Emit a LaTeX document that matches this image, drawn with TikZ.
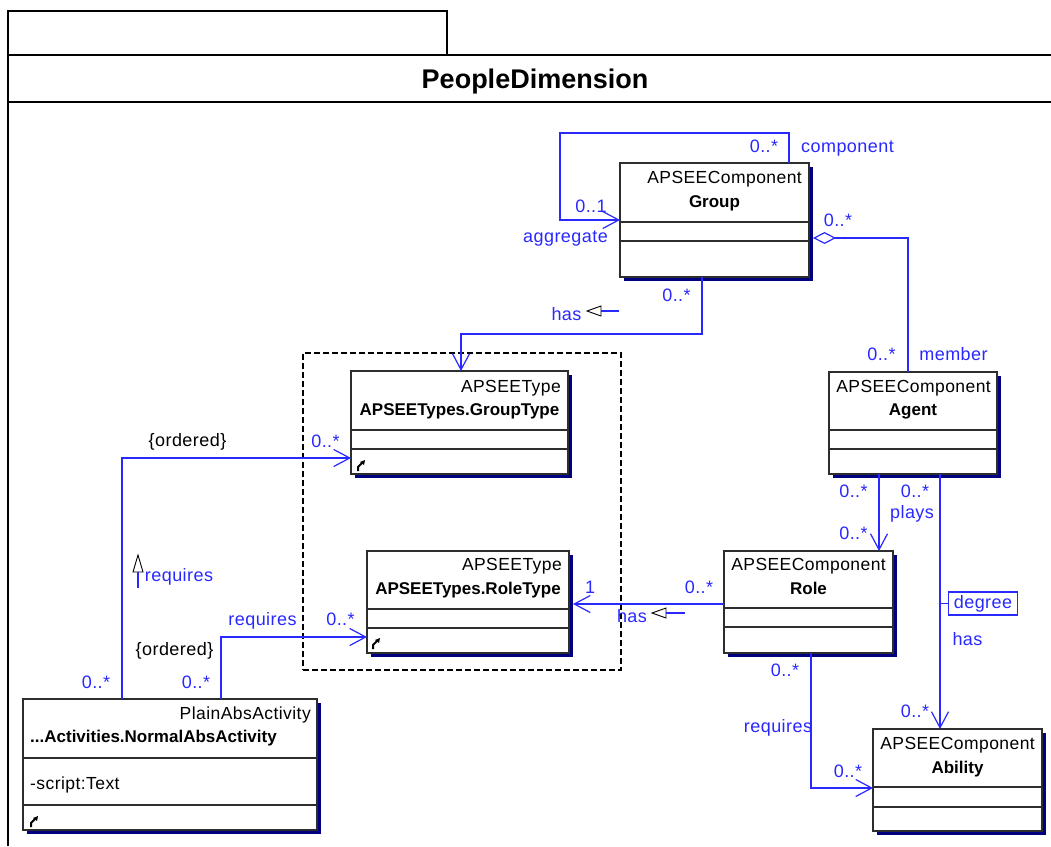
\documentclass[tikz,border=0pt]{standalone}
\usepackage{fontspec}
\setmainfont{Liberation Sans}[UprightFeatures={LetterSpace=2.5}]
\usetikzlibrary{arrows.meta}
\definecolor{lineblue}{RGB}{40,40,255}
\definecolor{shadenavy}{RGB}{0,0,128}
\definecolor{boxgray}{RGB}{45,45,45}

% class frame: name, x1, y1, x2, y2, first separator y, second separator y
\newcommand\classframe[7]{%
  \fill[clsshadow] (#2+4,#3+4) rectangle (#4+4,#5+4);
  \node[clsbox, anchor=north west, minimum width={(#4-#2)*1pt}, minimum height={(#5-#3)*1pt}] (#1) at (#2,#3) {};
  \draw[clsline] (#2,#6) -- (#4,#6);
  \draw[clsline] (#2,#7) -- (#4,#7);
}
% small operations marker in the last compartment (bottom-left corner x, y)
\newcommand\opmark[2]{%
  \draw[black, line width=2pt] (#1+1,#2) -- (#1+1,#2-4) -- (#1+5,#2-8);
  \fill[black] (#1+3,#2-9) -- (#1+8,#2-11) -- (#1+7,#2-6) -- cycle;
}

\begin{document}
\begin{tikzpicture}[x=1pt,y=-1pt,
  frameline/.style={draw=black, line width=1.2pt},
  clsbox/.style={draw=boxgray, fill=white, line width=1.4pt, inner sep=0pt, outer sep=0pt},
  clsline/.style={draw=boxgray, line width=1.4pt},
  clsshadow/.style={fill=shadenavy},
  stereo/.style={inner sep=0pt, anchor=base east, font=\fontsize{17.5}{20}\selectfont},
  clsname/.style={inner sep=0pt, anchor=base, font=\fontsize{17}{20}\selectfont\bfseries},
  attr/.style={inner sep=0pt, anchor=base west, font=\fontsize{17.5}{20}\selectfont},
  lbl/.style={inner sep=0pt, anchor=base, text=lineblue, font=\fontsize{18}{20}\selectfont},
  note/.style={inner sep=0pt, anchor=base, text=black, font=\fontsize{18}{20}\selectfont},
  assoc/.style={draw=lineblue, line width=1.4pt},
  navig/.style={-{Straight Barb[length=16pt,width=17pt,line width=1.2pt]}},
  dirmark/.style={draw=black, fill=white, line width=0.9pt},
]
\useasboundingbox (0,0) rectangle (1051,846);

% package frame with tab and title band
\draw[frameline] (8,846) -- (8,11) -- (447,11) -- (447,55);
\draw[frameline] (8,55) -- (1051,55);
\draw[frameline] (8,102) -- (1051,102);
\node[inner sep=0pt, anchor=base, font=\fontsize{27}{30}\selectfont\bfseries] (title) at (535,88) {PeopleDimension};

% dashed group around the type classes
\node[draw=black, line width=1.6pt, dash pattern=on 6pt off 3pt, anchor=north west,
      minimum width=318pt, minimum height=317pt, inner sep=0pt, outer sep=0pt] (typepkg) at (303,353) {};

% classes
\classframe{group}{620}{163}{809}{277}{222}{241}
\node[stereo] (group-st) at (802,183) {APSEEComponent};
\node[clsname] (group-nm) at (714.5,207) {Group};

\classframe{gtype}{351}{371}{568}{474}{430}{449}
\node[stereo] (gtype-st) at (561,392) {APSEEType};
\node[clsname] (gtype-nm) at (459.5,415) {APSEETypes.GroupType};
\opmark{357}{471}

\classframe{rtype}{367}{551}{569}{653}{609}{628}
\node[stereo] (rtype-st) at (562,570) {APSEEType};
\node[clsname] (rtype-nm) at (468,594) {APSEETypes.RoleType};
\opmark{372}{649}

\classframe{agent}{829}{372}{997}{474}{430}{449}
\node[stereo] (agent-st) at (991,392) {APSEEComponent};
\node[clsname] (agent-nm) at (913,415) {Agent};

\classframe{role}{724}{551}{893}{653}{608}{627}
\node[stereo] (role-st) at (886,570) {APSEEComponent};
\node[clsname] (role-nm) at (808.5,594) {Role};

\classframe{ability}{873}{729}{1042}{831}{787}{807}
\node[stereo] (ability-st) at (1035,749) {APSEEComponent};
\node[clsname] (ability-nm) at (957.5,773) {Ability};

\classframe{act}{23}{699}{317}{830}{758}{805}
\node[stereo] (act-st) at (311,719) {PlainAbsActivity};
\node[clsname, anchor=base west] (act-nm) at (30,742) {...Activities.NormalAbsActivity};
\node[attr] (act-attr) at (30,789) {-script:Text};
\opmark{30}{827}

% Group self association (component / aggregate)
\draw[assoc, navig] ([xshift=74.5pt]group.north) |- (560,133) |- (group.west);
\node[lbl] (l-comp-m) at (764,152) {0..*};
\node[lbl] (l-comp) at (847.5,152) {component};
\node[lbl] (l-agg-m) at (591,212) {0..1};
\node[lbl] (l-agg) at (565.5,242) {aggregate};

% Group aggregates Agent (member)
\draw[assoc, {Diamond[fill=white,length=23pt,width=12pt,line width=1.2pt]}-]
  ([xshift=4pt,yshift=-18pt]group.east) -| ([xshift=-5pt]agent.north);
\node[lbl] (l-mem-g) at (838,226) {0..*};
\node[lbl] (l-mem-m) at (881.5,360) {0..*};
\node[lbl] (l-mem) at (953.5,360) {member};

% Group has GroupType
\draw[assoc, navig] ([xshift=-12.5pt]group.south) -- ++(0,57) -| ([xshift=1.5pt]gtype.north);
\node[lbl] (l-gt-m) at (676.5,301) {0..*};
\node[lbl] (l-gt-has) at (566.5,320) {has};
\draw[dirmark] (587,311) -- (601,306) -- (601,316) -- cycle;
\draw[assoc, line width=1.2pt] (601,311) -- (619,311);

% NormalAbsActivity requires GroupType
\draw[assoc, navig] ([xshift=-48pt]act.north) |- ([yshift=-35.5pt]gtype.west);
\node[note] (l-ord1) at (187.5,446) {\{ordered\}};
\node[lbl] (l-agt-m) at (325.5,447) {0..*};
\node[lbl] (l-agt-req) at (179,581) {requires};
\draw[dirmark] (138,555) -- (133,572) -- (143,572) -- cycle;
\draw[assoc, line width=1.2pt] (138,572) -- (138,588);
\node[lbl] (l-agt-a) at (96,688) {0..*};

% NormalAbsActivity requires RoleType
\draw[assoc, navig] ([xshift=51pt]act.north) |- ([yshift=-35pt]rtype.west);
\node[lbl] (l-art-req) at (262.5,625) {requires};
\node[lbl] (l-art-m) at (340.5,625) {0..*};
\node[note] (l-ord2) at (174.5,655) {\{ordered\}};
\node[lbl] (l-art-a) at (196,688) {0..*};

% Role has RoleType
\draw[assoc, navig] ([yshift=-2pt]role.west) -- ([xshift=4pt,yshift=-2pt]rtype.east);
\node[lbl] (l-rrt-1) at (590,593) {1};
\node[lbl] (l-rrt-m) at (699,593) {0..*};
\node[lbl] (l-rrt-has) at (632,622) {has};
\draw[dirmark] (652,613) -- (666,608) -- (666,618) -- cycle;
\draw[assoc, line width=1.2pt] (666,613) -- (685,613);

% Agent plays Role
\draw[assoc, navig] ([xshift=-34pt]agent.south) -- ([xshift=70.5pt]role.north);
\node[lbl] (l-pl-a) at (853.5,497) {0..*};
\node[lbl] (l-pl-r) at (853.5,539) {0..*};
\node[lbl] (l-ab-a) at (915,497) {0..*};
\node[lbl] (l-plays) at (912,518) {plays};

% Agent has Ability (degree)
\draw[assoc, navig] ([xshift=27pt]agent.south) -- ([xshift=-17.5pt]ability.north);
\node[lbl, anchor=center, draw=lineblue, line width=1.2pt, inner xsep=5pt, inner ysep=3pt,
      text height=13pt, text depth=4pt] (deg) at (983,603.5) {degree};
\draw[assoc, line width=1.2pt] (deg.west) -- ++(-8,0);
\node[lbl] (l-ab-has) at (967.5,645) {has};
\node[lbl] (l-ab-m) at (915,717) {0..*};

% Role requires Ability
\draw[assoc, navig] ([xshift=2.5pt]role.south) |- ([yshift=-8pt]ability.west);
\node[lbl] (l-rab-r) at (785,676) {0..*};
\node[lbl] (l-rab-req) at (778,732) {requires};
\node[lbl] (l-rab-m) at (848,777) {0..*};

\end{tikzpicture}
\end{document}
